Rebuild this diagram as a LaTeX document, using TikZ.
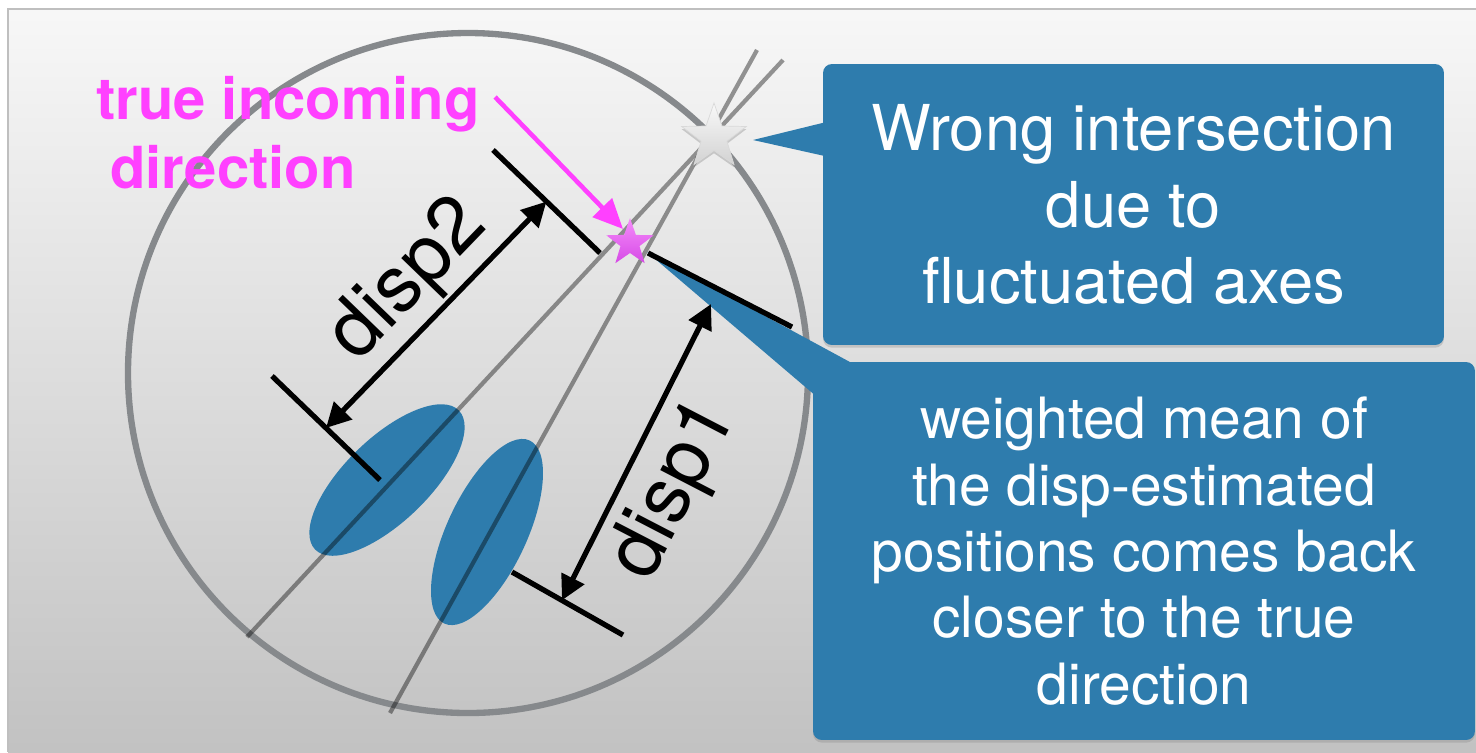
\documentclass[tikz,border=0pt]{standalone}
\usepackage{fontspec}
\setmainfont{TeX Gyre Heros}
\usetikzlibrary{arrows.meta,shapes.geometric,shadows,calc}
\definecolor{callblue}{HTML}{2E7CAD}
\definecolor{ringgray}{HTML}{86898C}
\definecolor{truemag}{HTML}{FF40FF}
\definecolor{startop}{HTML}{F58CFA}
\definecolor{starbot}{HTML}{D64AE6}
\tikzset{
  callbox/.style={fill=callblue,rounded corners=5pt,inner sep=0pt,text=white,align=center,
    drop shadow={opacity=0.3,shadow xshift=0pt,shadow yshift=-1.5pt}},
  blob/.style={fill=callblue,ellipse,inner sep=0pt},
  axisline/.style={black,opacity=0.4,line width=2.4pt},
  dimtick/.style={black,line width=3pt},
  dimarrow/.style={black,line width=3pt,{Triangle[length=14pt,width=14pt]}-{Triangle[length=14pt,width=14pt]}},
  displabel/.style={font=\fontsize{45}{54}\selectfont,inner sep=0pt},
  starmark/.style={star,star points=5,star point ratio=2.5,inner sep=0pt},
}

\begin{document}
\begin{tikzpicture}[x=0.02cm,y=-0.02cm]
\useasboundingbox (0,0) rectangle (1476,752);
\shade[top color=white!97!black,bottom color=white!76!black] (8,9) rectangle (1476,752);
\draw[black!25,line width=1pt] (8,752) -- (8,9) -- (1476,9);
\draw[ringgray,line width=3.6pt] (468,373) circle [radius=340];

\node[blob,minimum width=4cm,minimum height=1.68cm,rotate=44] (blob1) at (387,480) {};
\node[blob,minimum width=4.04cm,minimum height=1.6cm,rotate=65] (blob2) at (487,532) {};

\coordinate (a0) at (247,637);
\coordinate (a1) at (783,60);
\coordinate (b0) at (390,713);
\coordinate (b1) at (757,50);
\draw[axisline] (a0) -- (a1);
\draw[axisline] (b0) -- (b1);

\node[callbox,minimum width=12.42cm,minimum height=5.62cm,font=\fontsize{36}{43.5}\selectfont] (wrongbox) at (1133.5,204.5) {Wrong intersection\\due to\\fluctuated axes};
\node[callbox,minimum width=13.24cm,minimum height=7.56cm,font=\fontsize{32.4}{37.8}\selectfont] (meanbox) at (1144,551) {weighted mean of\\the disp-estimated\\positions comes back\\closer to the true\\direction};

\coordinate (wrongtip) at (753,140);
\coordinate (meantip) at (647,252);
\fill[callblue] (wrongtip) -- ($(wrongbox.north west)+(5,58)$) -- ($(wrongbox.north west)+(5,93)$) -- cycle;
\fill[callblue] (meantip) -- ($(meanbox.north west)+(44,4)$) -- ($(meanbox.north west)+(4,35)$) -- cycle;

\coordinate (t2a) at (493,150);
\coordinate (t2b) at (600,253);
\coordinate (t2c) at (272,376);
\coordinate (t2d) at (380,480);
\draw[dimtick] (t2a) -- (t2b);
\draw[dimtick] (t2c) -- (t2d);
\draw[dimarrow] ($(t2c)!0.5!(t2d)$) -- ($(t2a)!0.5!(t2b)$);

\coordinate (t1a) at (648,253);
\coordinate (t1b) at (792,327);
\coordinate (t1c) at (512,572);
\coordinate (t1d) at (623,635);
\coordinate (d1top) at (711,304);
\draw[dimtick] (t1a) -- (t1b);
\draw[dimtick] (t1c) -- (t1d);
\draw[dimarrow] ($(t1c)!0.45!(t1d)$) -- (d1top);

\node[displabel,rotate=46] (disp2lab) at (409,281) {disp2};
\node[displabel,rotate=62.6] (disp1lab) at (675,490) {disp1};

\node[starmark,minimum size=1.36cm,top color=gray!5,bottom color=gray!35,draw=gray!30,line width=0.4pt,
  drop shadow={opacity=0.35,shadow xshift=0pt,shadow yshift=-1.5pt}] (gstar) at (714,137) {};

\node[font=\fontsize{33}{39.5}\selectfont\bfseries,text=truemag,align=left,anchor=north west,inner sep=0pt] (truedir) at (96,76) {true incoming\\\hspace*{8pt}direction};
\coordinate (magtip) at (623,229);
\draw[truemag,line width=2.6pt,-{Triangle[length=17pt,width=15pt]}] ($(truedir.north east)+(15,21)$) -- (magtip);
\node[starmark,minimum size=1cm,top color=startop,bottom color=starbot] (pstar) at (630,243) {};
\end{tikzpicture}
\end{document}
